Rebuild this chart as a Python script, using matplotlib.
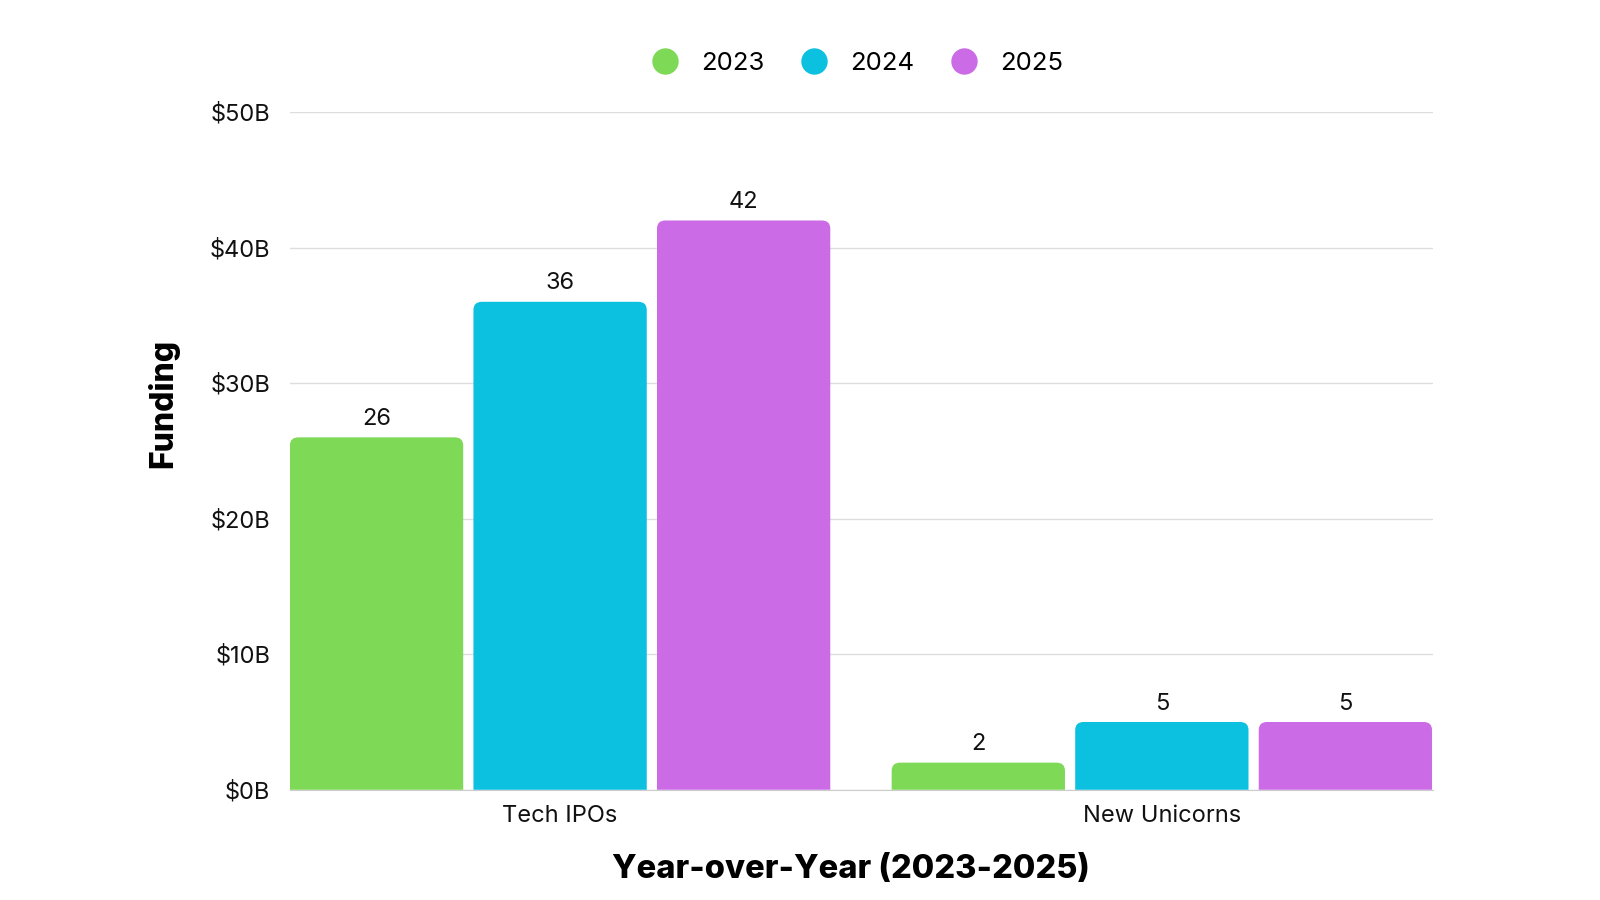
import matplotlib.pyplot as plt
import numpy as np
from matplotlib.path import Path
from matplotlib.patches import PathPatch
from matplotlib.lines import Line2D

plt.rcParams['font.family'] = ['Inter', 'DejaVu Sans']

categories = ["Tech IPOs", "New Unicorns"]
years = ["2023", "2024", "2025"]
values_2023 = [26, 2]
values_2024 = [36, 5]
values_2025 = [42, 5]
colors = ["#7ED957", "#0CC0DF", "#CB6CE6"]
yticks = [0, 10, 20, 30, 40, 50]
ytick_labels = ["$0B", "$10B", "$20B", "$30B", "$40B", "$50B"]


def rounded_top(x0, w, h, rx, ry):
    # bar outline with only the top corners rounded
    verts = [(x0, 0), (x0, h - ry), (x0, h), (x0 + rx, h),
             (x0 + w - rx, h), (x0 + w, h), (x0 + w, h - ry),
             (x0 + w, 0), (x0, 0)]
    codes = [Path.MOVETO, Path.LINETO, Path.CURVE3, Path.CURVE3,
             Path.LINETO, Path.CURVE3, Path.CURVE3, Path.LINETO, Path.CLOSEPOLY]
    return Path(verts, codes)


fig = plt.figure(figsize=(16, 9), dpi=100)
ax = fig.add_axes([0.1812, 0.1225, 0.7142, 0.753])

x = np.arange(len(categories))
step = 0.305
width = 0.288
series = [values_2023, values_2024, values_2025]

for i, (vals, col) in enumerate(zip(series, colors)):
    pos = x + (i - 1) * step
    bars = ax.bar(pos, vals, width=width, color=col, alpha=0)
    for b, v in zip(bars, vals):
        ry = min(0.6, v / 2)
        p = rounded_top(b.get_x(), b.get_width(), v, 0.014, ry)
        ax.add_patch(PathPatch(p, facecolor=col, edgecolor='none', zorder=3))
        ax.text(b.get_x() + b.get_width() / 2, v + 0.55, str(v), ha='center',
                va='bottom', fontsize=17, color='#111111')

ax.set_xlim(-0.449, 1.45)
ax.set_ylim(0, 50)
ax.set_yticks(yticks)
ax.set_yticklabels(ytick_labels)
ax.set_xticks(x)
ax.set_xticklabels(categories)
ax.tick_params(axis='both', length=0, labelsize=17, colors='#111111')
ax.tick_params(axis='x', pad=11)
ax.tick_params(axis='y', pad=14)
ax.grid(axis='y', color='#dddddd', linewidth=1, zorder=0)
ax.set_axisbelow(True)
for s in ['top', 'right', 'left']:
    ax.spines[s].set_visible(False)
ax.spines['bottom'].set_color('#cccccc')

ax.set_ylabel("Funding", fontsize=23, fontweight='heavy')
ax.yaxis.set_label_coords(-0.097, 0.57)
ax.set_xlabel("Year-over-Year (2023-2025)", fontsize=23.5, fontweight='heavy')
ax.xaxis.set_label_coords(0.491, -0.095)

handles = [Line2D([0], [0], marker='o', linestyle='none', markersize=19,
                  markerfacecolor=c, markeredgecolor='none') for c in colors]
fig.legend(handles, years, loc='center', bbox_to_anchor=(0.532, 0.929), ncol=3,
           frameon=False, fontsize=18.5, handletextpad=0.4, columnspacing=0.95)

fig.savefig("out.png", dpi=100, facecolor='white')
